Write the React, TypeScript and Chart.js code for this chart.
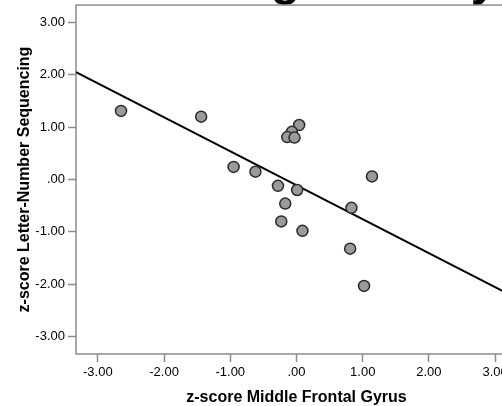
import React, { useEffect, useRef } from "react";
import { Chart, registerables } from "chart.js";

Chart.register(...registerables);

// ---- data ----
const titleText = " Working Memory";
const xAxisTitle = "z-score Middle Frontal Gyrus";
const yAxisTitle = "z-score Letter-Number Sequencing";

const tickValues = [-3, -2, -1, 0, 1, 2, 3];
const tickLabels = ["-3.00", "-2.00", "-1.00", ".00", "1.00", "2.00", "3.00"];

const mfgZ = [-2.65, -1.44, 0.04, -0.07, -0.14, -0.03, -0.95, -0.62, 1.14, -0.28, 0.01, -0.17, 0.83, -0.23, 0.09, 0.81, 1.02];
const lnsZ = [1.31, 1.2, 1.04, 0.91, 0.81, 0.8, 0.24, 0.15, 0.06, -0.12, -0.2, -0.46, -0.54, -0.8, -0.98, -1.32, -2.03];

const fitX = [-3.33, 3.33];
const fitY = [2.05, -2.27];

const axisMin = -3.33;
const axisMax = 3.33;

const FONT = "'Liberation Sans', Arial, sans-serif";

const framePlugin = {
  id: "frame",
  beforeDatasetsDraw(chart: any) {
    const { ctx, chartArea: a } = chart;
    ctx.save();
    ctx.strokeStyle = "#8c8c8c";
    ctx.lineWidth = 1.5;
    ctx.strokeRect(a.left, a.top, a.right - a.left, a.bottom - a.top);
    ctx.restore();
  },
};

export default function App() {
  const ref = useRef<HTMLCanvasElement | null>(null);

  useEffect(() => {
    if (!ref.current) return;
    const setTicks = (s: any) => {
      s.ticks = tickValues.map((v) => ({ value: v }));
    };
    const fmt = (v: any) => {
      const i = tickValues.indexOf(Number(v));
      return i >= 0 ? tickLabels[i] : "";
    };
    const chart = new Chart(ref.current, {
      type: "scatter",
      data: {
        datasets: [
          {
            type: "scatter",
            order: 0,
            data: mfgZ.map((x, i) => ({ x, y: lnsZ[i] })),
            backgroundColor: "#9a9a9a",
            borderColor: "#2a2a2a",
            borderWidth: 1.5,
            pointRadius: 5.5,
          },
          {
            type: "line",
            order: 1,
            data: fitX.map((x, i) => ({ x, y: fitY[i] })),
            borderColor: "#000",
            borderWidth: 2,
            pointRadius: 0,
            showLine: true,
            fill: false,
          } as any,
        ],
      },
      options: {
        responsive: false,
        animation: false,
        devicePixelRatio: 1,
        layout: { padding: { left: 15, right: 23, top: 0, bottom: 0 } },
        plugins: {
          legend: { display: false },
          tooltip: { enabled: false },
          title: {
            display: true,
            text: titleText,
            fullSize: false,
            color: "#000",
            padding: 0,
            font: { family: FONT, size: 48, weight: "bold", lineHeight: 0.98 },
          },
        },
        scales: {
          x: {
            type: "linear",
            min: axisMin,
            max: axisMax,
            afterBuildTicks: setTicks,
            afterFit: (s: any) => {
              s.height = 53;
            },
            border: { display: false },
            grid: {
              drawOnChartArea: false,
              drawTicks: true,
              tickLength: 8,
              tickColor: "#8c8c8c",
              tickWidth: 1.5,
            },
            ticks: {
              callback: fmt,
              color: "#000",
              padding: 3,
              maxRotation: 0,
              font: { family: FONT, size: 13 },
            },
            title: {
              display: true,
              text: xAxisTitle,
              color: "#000",
              padding: 0,
              font: { family: FONT, size: 16, weight: "bold" },
            },
          },
          y: {
            type: "linear",
            min: axisMin,
            max: axisMax,
            afterBuildTicks: setTicks,
            afterFit: (s: any) => {
              s.width = 61;
            },
            border: { display: false },
            grid: {
              drawOnChartArea: false,
              drawTicks: true,
              tickLength: 8,
              tickColor: "#8c8c8c",
              tickWidth: 1.5,
            },
            ticks: {
              callback: fmt,
              color: "#000",
              padding: 3,
              font: { family: FONT, size: 13 },
            },
            title: {
              display: true,
              text: yAxisTitle,
              color: "#000",
              padding: 0,
              font: { family: FONT, size: 16, weight: "bold" },
            },
          },
        },
      },
      plugins: [framePlugin],
    } as any);
    return () => chart.destroy();
  }, []);

  return (
    <div
      style={{
        position: "fixed",
        left: 0,
        top: 0,
        width: 502,
        height: 406,
        overflow: "hidden",
        background: "#fff",
      }}
    >
      <canvas
        ref={ref}
        width={540}
        height={449}
        style={{ position: "absolute", left: 0, top: -42, width: 540, height: 449 }}
      />
    </div>
  );
}
